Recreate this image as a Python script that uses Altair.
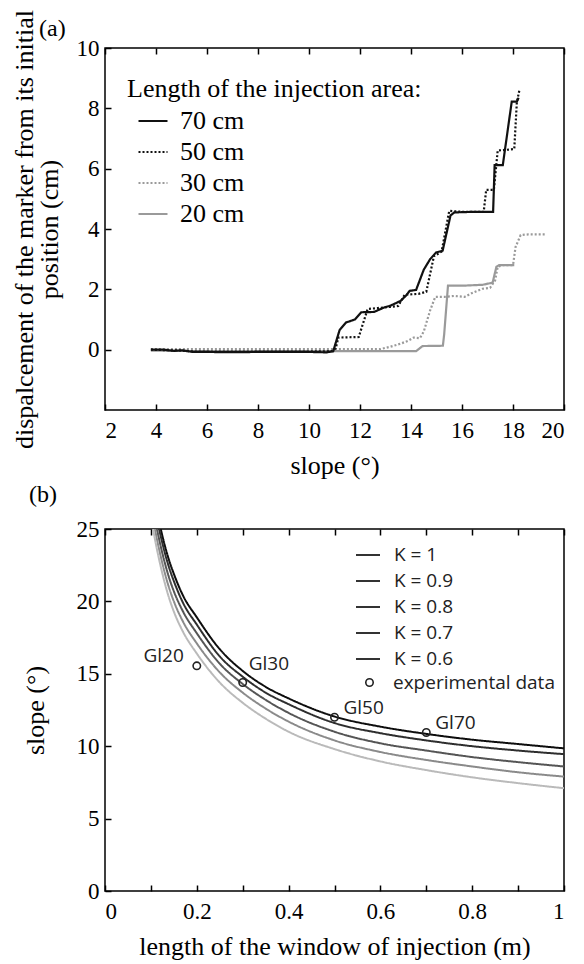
import altair as alt
import pandas as pd

SERIF = "Liberation Serif"
SANS = "Open Sans"

# ---------------- Panel (a) data ----------------
series_a = ["70 cm", "50 cm", "30 cm", "20 cm"]
colors_a = ["#111111", "#111111", "#9a9a9a", "#9a9a9a"]
dashes_a = [[1, 0], [2, 2], [2, 2], [1, 0]]

s70 = [3.8, 4.3, 4.7, 5.0, 5.4, 6.5, 7.5, 8.5, 9.5, 10.3, 10.7, 10.95, 11.2, 11.45, 11.8, 12.05,
       12.55, 12.95, 13.2, 13.6, 13.8, 13.95, 14.2, 14.5, 14.75, 14.98, 15.24, 15.55, 15.7, 16.5,
       17.22, 17.28, 17.6, 17.95, 18.15, 18.22]
d70 = [0.0, 0.0, -0.04, -0.02, -0.07, -0.08, -0.08, -0.07, -0.07, -0.08, -0.09, -0.05, 0.65, 0.9,
       1.0, 1.24, 1.25, 1.4, 1.46, 1.62, 1.79, 1.95, 1.98, 2.65, 3.0, 3.22, 3.28, 4.45, 4.55, 4.57,
       4.57, 6.12, 6.12, 8.22, 8.22, 8.35]

s50 = [3.8, 4.5, 5.0, 5.5, 7.0, 8.5, 10.0, 10.9, 11.05, 11.15, 11.95, 12.3, 12.7, 13.2, 13.5,
       13.75, 14.3, 14.6, 14.9, 15.2, 15.5, 16.0, 16.85, 16.95, 17.25, 17.4, 18.05, 18.15, 18.25]
d50 = [0.0, -0.02, -0.03, -0.06, -0.06, -0.06, -0.06, -0.05, 0.05, 0.4, 0.42, 1.35, 1.38, 1.42,
       1.45, 1.82, 1.85, 1.92, 3.1, 3.25, 4.6, 4.57, 4.57, 5.3, 5.3, 6.6, 6.65, 8.2, 8.6]

s30 = [3.8, 5.0, 7.0, 9.0, 11.0, 12.8, 13.2, 13.6, 13.9, 14.1, 14.35, 14.5, 14.75, 14.95, 15.3,
       15.7, 16.1, 16.4, 16.8, 17.1, 17.3, 17.4, 17.6, 18.0, 18.1, 18.3, 18.6, 19.25]
d30 = [0.02, 0.02, 0.02, 0.02, 0.02, 0.02, 0.1, 0.2, 0.3, 0.4, 0.38, 0.6, 1.3, 1.75, 1.75, 1.78,
       1.75, 1.88, 2.02, 2.05, 2.3, 2.75, 2.8, 2.8, 3.4, 3.8, 3.82, 3.82]

s20 = [3.8, 6.0, 9.0, 11.0, 13.0, 14.2, 14.45, 15.25, 15.3, 15.45, 16.0, 16.8, 17.2, 17.35,
       17.45, 18.05]
d20 = [-0.03, -0.05, -0.05, -0.05, -0.05, -0.05, 0.12, 0.13, 0.5, 2.12, 2.12, 2.15, 2.22, 2.75,
       2.8, 2.8]

xticks_a = [2, 4, 6, 8, 10, 12, 14, 16, 18, 20]
yticks_a = [0, 2, 4, 6, 8, 10]

# ---------------- Panel (b) data ----------------
k_labels = ["K = 1", "K = 0.9", "K = 0.8", "K = 0.7", "K = 0.6"]
k_colors = ["#0d0d0d", "#2e2e2e", "#555555", "#8a8a8a", "#bababa"]
L_grid = [0.10, 0.11, 0.12, 0.13, 0.14, 0.15, 0.17, 0.20, 0.25, 0.30, 0.35, 0.40, 0.50, 0.60,
          0.70, 0.80, 0.90, 1.00]
k10 = [28.5, 26.7, 25.2, 23.9, 22.8, 21.9, 20.4, 18.9, 16.7, 15.2, 14.1, 13.3, 12.05, 11.35,
       10.85, 10.45, 10.15, 9.85]
k09 = [28.0, 26.2, 24.7, 23.4, 22.3, 21.4, 19.9, 18.4, 16.2, 14.8, 13.7, 12.9, 11.6, 10.9, 10.4,
       10.0, 9.7, 9.45]
k08 = [27.3, 25.5, 24.0, 22.7, 21.6, 20.7, 19.3, 17.8, 15.7, 14.3, 13.2, 12.3, 11.0, 10.2, 9.7,
       9.25, 8.9, 8.6]
k07 = [26.6, 24.8, 23.3, 22.0, 20.9, 20.0, 18.6, 17.1, 15.1, 13.7, 12.6, 11.7, 10.4, 9.6, 9.05,
       8.6, 8.2, 7.9]
k06 = [25.9, 24.1, 22.6, 21.3, 20.2, 19.3, 17.9, 16.4, 14.4, 13.0, 11.9, 11.0, 9.8, 8.95, 8.35,
       7.85, 7.45, 7.1]

exp_L = [0.2, 0.3, 0.5, 0.7]
exp_slope = [15.55, 14.4, 12.0, 10.95]
exp_names = ["Gl20", "Gl30", "Gl50", "Gl70"]

xticks_b = [0, 0.1, 0.2, 0.3, 0.4, 0.5, 0.6, 0.7, 0.8, 0.9, 1.0]
yticks_b = [0, 5, 10, 15, 20, 25]

W, H = 459, 362

# ---------------- build tables ----------------
rows = []
for name, xs, ys in [("70 cm", s70, d70), ("50 cm", s50, d50), ("30 cm", s30, d30), ("20 cm", s20, d20)]:
    for i, (a, b) in enumerate(zip(xs, ys)):
        rows.append({"series": name, "slope": a, "disp": b, "idx": i})
df_a = pd.DataFrame(rows)

rows = []
for name, ys in zip(k_labels, [k10, k09, k08, k07, k06]):
    for i, (a, b) in enumerate(zip(L_grid, ys)):
        rows.append({"K": name, "L": a, "slope": b, "idx": i})
df_b = pd.DataFrame(rows)
df_exp = pd.DataFrame({"L": exp_L, "slope": exp_slope, "name": exp_names,
                       "kind": ["experimental data"] * 4})

AX = dict(labelFont=SERIF, labelFontSize=23, labelColor="black", titleFont=SERIF,
          titleFontSize=26, titleFontWeight="normal", titleColor="black", tickColor="black",
          tickWidth=1.5, offset=-6, tickSize=6, domain=False, grid=False)

# ---------------- panel (a) ----------------
legend_a = alt.Legend(
    orient="none", legendX=22, legendY=28, title="Length of the injection area:",
    titleFont=SERIF, titleFontSize=26, titleFontWeight="normal", titleColor="black",
    titlePadding=3, titleLimit=500, labelFont=SERIF, labelFontSize=26, labelColor="black",
    labelLimit=300, symbolType="stroke", symbolSize=841, symbolStrokeWidth=2.2, symbolOffset=10,
    labelOffset=11, rowPadding=2, padding=0,
)
color_a = alt.Color("series:N", scale=alt.Scale(domain=series_a, range=colors_a), legend=legend_a)
dash_a = alt.StrokeDash("series:N", scale=alt.Scale(domain=series_a, range=dashes_a), legend=legend_a)

x_a = alt.X("slope:Q", scale=alt.Scale(domain=[2, 20], nice=False, zero=False),
            axis=alt.Axis(values=xticks_a, title="slope (°)", labelPadding=9, titlePadding=10, **AX))
y_a = alt.Y("disp:Q", scale=alt.Scale(domain=[-2, 10], nice=False, zero=False),
            axis=alt.Axis(values=yticks_a,
                          title=["dispalcement of the marker from its initial", "position (cm)"],
                          titleLineHeight=25, labelPadding=6, titlePadding=14, **AX))

gray_lines = alt.Chart(df_a).transform_filter(
    alt.FieldOneOfPredicate(field="series", oneOf=["30 cm", "20 cm"])
).mark_line(strokeWidth=2.2, clip=True).encode(x=x_a, y=y_a, color=color_a, strokeDash=dash_a, order="idx:Q")
black_lines = alt.Chart(df_a).transform_filter(
    alt.FieldOneOfPredicate(field="series", oneOf=["70 cm", "50 cm"])
).mark_line(strokeWidth=2.2, clip=True).encode(x=x_a, y=y_a, color=color_a, strokeDash=dash_a, order="idx:Q")

top_a = alt.Chart(pd.DataFrame({"t": xticks_a})).mark_point(opacity=0).encode(
    x=alt.X("t:Q", scale=alt.Scale(domain=[2, 20], nice=False, zero=False),
            axis=alt.Axis(orient="top", values=xticks_a, labels=False, title=None, **AX))
)

panel_a = alt.layer(alt.layer(gray_lines, black_lines), top_a).resolve_axis(x="independent").properties(
    title=alt.TitleParams(text="(a)", anchor="start", frame="group", dx=-66, dy=39, offset=8,
                          font=SERIF, fontSize=24, fontWeight="normal", color="black"),
)

# ---------------- panel (b) ----------------
legend_k = alt.Legend(
    orient="none", legendX=250, legendY=13, title=None, labelFont=SANS, labelFontSize=19,
    labelColor="#222222", labelLimit=300, symbolType="stroke", symbolSize=576,
    symbolStrokeWidth=2, symbolStrokeColor="#333333", labelOffset=13, rowPadding=3, padding=0,
    values=k_labels,
)
legend_e = alt.Legend(
    orient="none", legendX=255, legendY=144, title=None, labelFont=SANS, labelFontSize=19,
    labelColor="#222222", labelLimit=300, symbolType="circle", symbolSize=55,
    symbolStrokeWidth=1.6, symbolStrokeColor="#222222", symbolFillColor="white",
    labelOffset=14, padding=0,
)

x_b = alt.X("L:Q", scale=alt.Scale(domain=[0, 1], nice=False),
            axis=alt.Axis(values=xticks_b, format="~g",
                          labelExpr="round(datum.value*10) % 2 == 0 ? datum.label : ''",
                          title="length of the window of injection (m)", labelPadding=9,
                          titlePadding=10, **AX))
y_b = alt.Y("slope:Q", scale=alt.Scale(domain=[0, 25], nice=False),
            axis=alt.Axis(values=yticks_b, title="slope (°)", labelPadding=6, titlePadding=28, **AX))

curves = alt.Chart(df_b).mark_line(strokeWidth=2, clip=True, interpolate="monotone").encode(
    x=x_b, y=y_b,
    color=alt.Color("K:N", scale=alt.Scale(domain=k_labels[::-1], range=k_colors[::-1]),
                    legend=None),
    strokeDash=alt.StrokeDash("K:N", scale=alt.Scale(domain=k_labels, range=[[1, 0]] * 5),
                              legend=legend_k),
    order="idx:Q",
)
points = alt.Chart(df_exp).mark_point(shape="circle", filled=False, size=55, strokeWidth=1.6,
                                      color="#222222", opacity=1).encode(
    x=x_b, y=y_b,
    shape=alt.Shape("kind:N", scale=alt.Scale(domain=["experimental data"], range=["circle"]),
                    legend=legend_e),
)
lab20 = alt.Chart(df_exp).transform_filter(alt.datum.name == "Gl20").mark_text(
    font=SANS, fontSize=19, align="right", dx=-13, dy=-10, color="#222222").encode(
    x="L:Q", y="slope:Q", text="name:N")
lab30 = alt.Chart(df_exp).transform_filter(alt.datum.name == "Gl30").mark_text(
    font=SANS, fontSize=19, align="left", dx=6, dy=-18, color="#222222").encode(
    x="L:Q", y="slope:Q", text="name:N")
lab5070 = alt.Chart(df_exp).transform_filter(
    alt.FieldOneOfPredicate(field="name", oneOf=["Gl50", "Gl70"])).mark_text(
    font=SANS, fontSize=19, align="left", dx=9, dy=-9, color="#222222").encode(
    x="L:Q", y="slope:Q", text="name:N")

top_b = alt.Chart(pd.DataFrame({"t": xticks_b})).mark_point(opacity=0).encode(
    x=alt.X("t:Q", scale=alt.Scale(domain=[0, 1], nice=False),
            axis=alt.Axis(orient="top", values=xticks_b, labels=False, title=None, **AX))
)

panel_b = alt.layer(alt.layer(curves, points, lab20, lab30, lab5070), top_b).resolve_axis(
    x="independent").properties(
    title=alt.TitleParams(text="(b)", anchor="start", frame="group", dx=-76, offset=11,
                          font=SERIF, fontSize=24, fontWeight="normal", color="black"),
)

chart = alt.vconcat(panel_a, panel_b, spacing=3).resolve_scale(
    color="independent", strokeDash="independent", shape="independent"
).resolve_legend(
    color="independent", strokeDash="independent", shape="independent"
).properties(
    padding={"left": 2, "top": 0, "right": 0, "bottom": 0}
).configure_view(stroke="black", strokeWidth=1.5, continuousWidth=W, continuousHeight=H)

chart.save("out.html", embed_options={"renderer": "svg", "actions": False})
